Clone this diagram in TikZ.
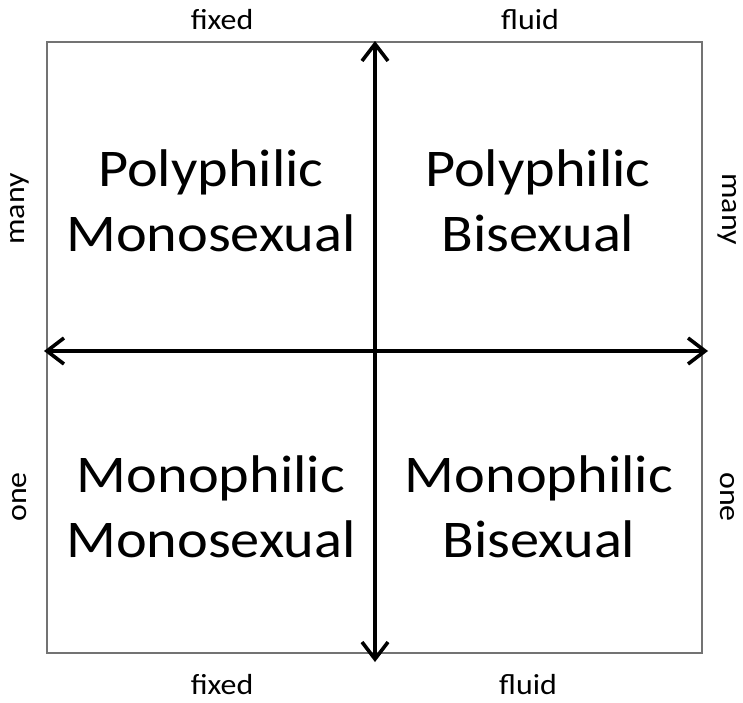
\documentclass[tikz,border=0pt]{standalone}
\usepackage{fontspec}
\setmainfont{Carlito}
\usetikzlibrary{arrows.meta}
\newcommand\widetxt[1]{\scalebox{1.1}[1]{#1}}
\begin{document}
\begin{tikzpicture}[x=1pt,y=-1pt,
  quad/.style={align=center,font=\fontsize{53}{65}\selectfont,inner sep=0pt},
  lab/.style={font=\fontsize{29}{30}\selectfont,inner sep=0pt},
  axis/.style={line width=3.6pt,{Straight Barb[length=17pt,width=26pt]}-{Straight Barb[length=17pt,width=26pt]}},
  frame/.style={draw=black!55,line width=1.6pt}]
\useasboundingbox (0,0) rectangle (743,702);
\node[frame,minimum width=655pt,minimum height=611pt,inner sep=0pt] (box) at (374.5,347.5) {};
\coordinate (top) at (375,41);
\coordinate (bot) at (375,662);
\coordinate (left) at (44,351);
\coordinate (right) at (708,351);
\draw[axis] (top) -- (bot);
\draw[axis] (left) -- (right);
\node[quad] (tl) at (211,201) {\widetxt{Polyphilic}\\\widetxt{Monosexual}};
\node[quad] (tr) at (538,201) {\widetxt{Polyphilic}\\\widetxt{Bisexual}};
\node[quad] (bl) at (211,507) {\widetxt{Monophilic}\\\widetxt{Monosexual}};
\node[quad] (br) at (539,507) {\widetxt{Monophilic}\\\widetxt{Bisexual}};
\node[lab,anchor=base] (ft) at (222,29) {\widetxt{fixed}};
\node[lab,anchor=base] (fl) at (530,29) {\widetxt{fluid}};
\node[lab,anchor=base] (fb) at (222,694) {\widetxt{fixed}};
\node[lab,anchor=base] (flb) at (528,694) {\widetxt{fluid}};
\node[lab,rotate=90] (ml) at (20,209) {\widetxt{many}};
\node[lab,rotate=90] (ol) at (20,497) {\widetxt{one}};
\node[lab,rotate=-90] (mr) at (727,209) {\widetxt{many}};
\node[lab,rotate=-90] (or) at (727,497) {\widetxt{one}};
\end{tikzpicture}
\end{document}
